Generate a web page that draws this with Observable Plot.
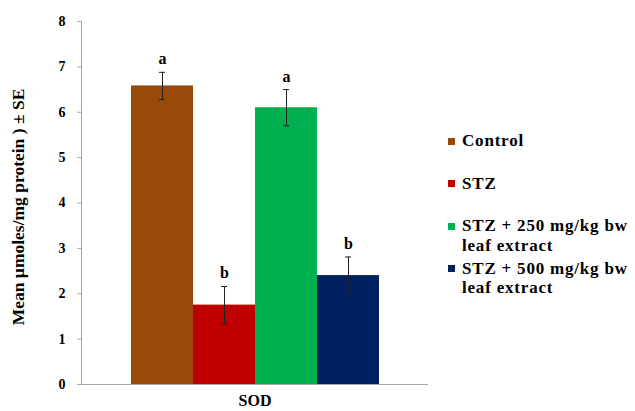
<!DOCTYPE html>
<html>
<head>
<meta charset="utf-8">
<script src="https://cdn.jsdelivr.net/npm/d3@7"></script>
<script src="https://cdn.jsdelivr.net/npm/@observablehq/plot@0.6"></script>
<style>
  html, body { margin: 0; padding: 0; background: #fff; font-family: 'Liberation Serif', serif; }
  #wrap { position: relative; width: 635px; height: 411px; }
  #wrap svg text { font-family: 'Liberation Serif', serif; }
  #legend { position: absolute; left: 0; top: 0; font-family: 'Liberation Serif', serif; font-weight: bold; font-size: 17px; letter-spacing: 0.8px; color: #000; }
  .item { position: absolute; left: 448px; display: flex; align-items: flex-start; white-space: pre; line-height: 19.5px; }
  .swatch { width: 7px; height: 7px; margin-top: 6.5px; margin-right: 7px; flex: none; }
</style>
</head>
<body>
<div id="wrap"><div id="legend"></div></div>
<script>
// SOD activity per treatment group (mean ± SE), with significance letters
const groups = ["Control", "STZ", "STZ + 250 mg/kg bw\nleaf extract", "STZ + 500 mg/kg bw\nleaf extract"];
const means = [6.58, 1.75, 6.1, 2.4];
const errors = [0.3, 0.41, 0.4, 0.41];
const letters = ["a", "b", "a", "b"];
const colors = ["#984807", "#C00000", "#00B050", "#002060"];
const yTicks = [0, 1, 2, 3, 4, 5, 6, 7, 8];
const category = "SOD";
const yTitle = "Mean µmoles/mg protein ) ± SE";

const data = groups.map((g, i) => ({
  group: g, mean: means[i], se: errors[i], letter: letters[i],
  lo: means[i] - errors[i], hi: means[i] + errors[i]
}));

const serif = "'Liberation Serif', serif";
const axisGray = "#a6a6a6";

const chart = Plot.plot({
  width: 635,
  height: 411,
  marginLeft: 81,
  marginRight: 207,
  marginTop: 21,
  marginBottom: 27,
  style: { fontFamily: serif, background: "#fff" },
  x: { domain: groups, paddingInner: 0, paddingOuter: 0.785, axis: null },
  y: { domain: [0, 8], axis: null },
  color: { domain: groups, range: colors },
  marks: [
    Plot.axisY({ ticks: yTicks, tickSize: 4, tickPadding: 12, stroke: axisGray, fill: "#000",
      fontSize: 14, fontWeight: "bold", label: null, tickFormat: d => String(d) }),
    Plot.frame({ anchor: "left", stroke: axisGray }),
    Plot.barY(data, { x: "group", y: "mean", fill: "group" }),
    Plot.ruleY([0], { stroke: axisGray }),
    Plot.ruleX(data, { x: "group", y1: "lo", y2: "hi", stroke: "#222", strokeWidth: 1 }),
    Plot.tickY(data, { x: "group", y: "lo", stroke: "#222", insetLeft: 28, insetRight: 28 }),
    Plot.tickY(data, { x: "group", y: "hi", stroke: "#222", insetLeft: 28, insetRight: 28 }),
    Plot.text(data, { x: "group", y: "hi", text: "letter", lineAnchor: "bottom", dy: -8,
      fontSize: 16, fontWeight: "bold", fill: "#000" }),
    Plot.text([category], { frameAnchor: "bottom", textAnchor: "middle", dy: 21, fontSize: 16,
      fontWeight: "bold", fill: "#000" }),
    Plot.text([yTitle], { frameAnchor: "left", textAnchor: "middle", rotate: -90, dx: -63, dy: 4,
      fontSize: 17.5, fontWeight: "bold", fill: "#000" })
  ]
});

document.getElementById("wrap").prepend(chart);

// Legend: one entry per group, to the right of the plot area
const legend = document.getElementById("legend");
const legendTop = 131;
const legendStep = 42.5;
groups.forEach((g, i) => {
  const item = document.createElement("div");
  item.className = "item";
  item.style.top = (legendTop + i * legendStep) + "px";
  const sw = document.createElement("span");
  sw.className = "swatch";
  sw.style.background = colors[i];
  const label = document.createElement("span");
  label.textContent = g;
  item.append(sw, label);
  legend.append(item);
});
</script>
</body>
</html>
